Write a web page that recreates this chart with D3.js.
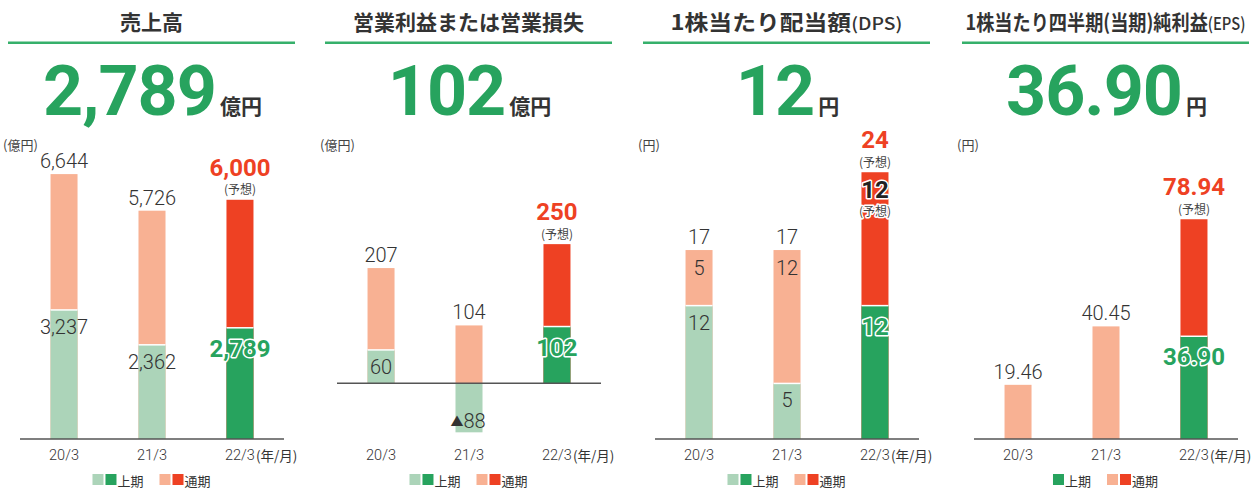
<!DOCTYPE html>
<html lang="ja">
<head>
<meta charset="UTF-8">
<title>業績ハイライト</title>
<script src="https://d3js.org/d3.v7.min.js"></script>
<style>
  body { margin: 0; background: #fff; }
  text { font-family: Roboto, "Noto Sans CJK JP", sans-serif; }
  .jp { font-family: "Noto Sans CJK JP", sans-serif; }
</style>
</head>
<body>
<svg width="1252" height="488"></svg>
<script>
// data
const periods = ["20/3", "21/3", "22/3"];
const forecast = [false, false, true];

const titles = ["売上高", "営業利益または営業損失", "1株当たり配当額", "1株当たり四半期(当期)純利益"];
const titleSuffix = ["", "", "(DPS)", "(EPS)"];
const titleWidth = [null, null, 232, 280];
const headlines = ["2,789", "102", "12", "36.90"];
const headUnits = ["億円", "億円", "円", "円"];
const axisUnits = ["(億円)", "(億円)", "(円)", "(円)"];

const salesFull = [6644, 5726, 6000];
const salesH1 = [3237, 2362, 2789];
const opFull = [207, 104, 250];
const opH1 = [60, -88, 102];
const dpsFull = [17, 17, 24];
const dpsH1 = [12, 5, 12];
const epsFull = [19.46, 40.45, 78.94];
const epsH1 = [null, null, 36.90];

const C = {
  green: "#27a35e", lightGreen: "#acd4b9", salmon: "#f8b193", red: "#ee4123",
  rule: "#36b06b", text: "#333333"
};

const fmtOp = v => v < 0 ? "▲" + Math.abs(v) : String(v);
const panels = [
  { x0: 8,   full: salesFull, h1: salesH1, dom: [0, 7750], fmt: d3.format(","), light: true },
  { x0: 325, full: opFull,    h1: opH1,    dom: [-100, 455], fmt: fmtOp, light: true },
  { x0: 643, full: dpsFull,   h1: dpsH1,   dom: [0, 27.8], fmt: d3.format("d"), light: true, second: true },
  { x0: 962, full: epsFull,   h1: epsH1,   dom: [0, 111], fmt: d3.format(".2f"), light: false }
];

const svg = d3.select("svg");
const W = 287;

panels.forEach((p, i) => {
  const g = svg.append("g").attr("transform", `translate(${p.x0},0)`);
  const cx = W / 2;

  // title + rule
  const tg = g.append("g");
  const tt = tg.append("text").attr("class", "jp").attr("x", 0).attr("y", 30)
    .attr("font-size", 21).attr("font-weight", 700).attr("fill", C.text).text(titles[i]);
  if (titleSuffix[i]) tt.append("tspan").attr("font-size", 17).attr("font-weight", 500).text(titleSuffix[i]);
  const natural = tt.node().getComputedTextLength();
  const sx = titleWidth[i] ? titleWidth[i] / natural : 1;
  tg.attr("transform", `translate(${cx - natural * sx / 2},0) scale(${sx},1)`);
  g.append("rect").attr("x", 0).attr("y", 41.5).attr("width", W).attr("height", 2.5).attr("fill", C.rule);

  // headline
  const hg = g.append("g");
  const num = hg.append("text").attr("x", 0).attr("y", 115)
    .attr("font-size", 70).attr("font-weight", 700).attr("letter-spacing", -1)
    .attr("fill", C.green).text(headlines[i]);
  const nw = num.node().getComputedTextLength();
  const unit = hg.append("text").attr("class", "jp").attr("x", nw + 4).attr("y", 114)
    .attr("font-size", 21).attr("font-weight", 700).attr("fill", C.text).text(headUnits[i]);
  const tw = nw + 4 + unit.node().getComputedTextLength();
  hg.attr("transform", `translate(${cx + 1 - tw / 2},0)`);

  // axis unit
  g.append("text").attr("class", "jp").attr("x", -5).attr("y", 150)
    .attr("font-size", 13).attr("fill", "#444").text(axisUnits[i]);

  // scales
  const x = d3.scaleBand().domain(periods).range([12, 276]).paddingInner(0.693).paddingOuter(0.347);
  const y = d3.scaleLinear().domain(p.dom).range([439, 130]);
  const bw = x.bandwidth();
  const y0 = y(0);

  const rows = periods.map((k, j) => ({ k, full: p.full[j], h1: p.h1[j], fc: forecast[j] }));

  // full-year bars
  g.selectAll(".full").data(rows).enter().append("rect")
    .attr("x", d => x(d.k)).attr("width", bw)
    .attr("y", d => y(Math.max(0, d.full))).attr("height", d => Math.abs(y(d.full) - y0))
    .attr("fill", d => d.fc ? C.red : C.salmon);

  // first-half bars
  const h1rows = rows.filter(d => d.h1 != null);
  g.selectAll(".h1").data(h1rows).enter().append("rect")
    .attr("x", d => x(d.k)).attr("width", bw)
    .attr("y", d => y(Math.max(0, d.h1))).attr("height", d => Math.abs(y(d.h1) - y0))
    .attr("fill", d => d.fc ? C.green : C.lightGreen);
  g.selectAll(".sep").data(h1rows.filter(d => d.h1 > 0)).enter().append("line")
    .attr("x1", d => x(d.k)).attr("x2", d => x(d.k) + bw)
    .attr("y1", d => y(d.h1)).attr("y2", d => y(d.h1))
    .attr("stroke", "#fff").attr("stroke-width", 1.5);

  // baseline
  g.append("line").attr("x1", 12).attr("x2", 276).attr("y1", y0).attr("y2", y0)
    .attr("stroke", "#555").attr("stroke-width", 1.5);

  const lab = (xx, yy, txt, size, weight, fill, outline) => {
    const t = g.append("text").attr("x", xx).attr("y", yy).attr("text-anchor", "middle")
      .attr("dominant-baseline", "central").attr("font-size", size).attr("font-weight", weight)
      .attr("fill", fill);
    if (txt.startsWith("▲")) {
      t.append("tspan").attr("font-size", 13).text("▲");
      t.append("tspan").text(txt.slice(1));
    } else t.text(txt);
    if (outline) t.attr("stroke", "#fff").attr("stroke-width", 3).attr("stroke-linejoin", "round").attr("paint-order", "stroke");
    return t;
  };

  rows.forEach(d => {
    const bx = x(d.k) + bw / 2;
    const top = y(d.full);
    // total label
    if (d.fc) {
      lab(bx, top - 32, p.fmt(d.full), 24, 700, C.red);
      lab(bx, top - 11, "(予想)", 12, 400, "#444").attr("class", "jp");
    } else {
      lab(bx, top - 13, p.fmt(d.full), 20, 300, C.text);
    }
    // second-half label (DPS)
    if (p.second && d.h1 != null) {
      if (d.fc) {
        lab(bx, top + 18, p.fmt(d.full - d.h1), 24, 700, "#222", true);
        lab(bx, top + 38, "(予想)", 12, 400, "#444", true).attr("class", "jp");
      } else {
        lab(bx, top + 18, p.fmt(d.full - d.h1), 20, 300, C.text);
      }
    }
    // first-half label
    if (d.h1 != null) {
      if (d.h1 < 0) lab(bx - 1, y(d.h1) - 11, p.fmt(d.h1), 20, 300, C.text);
      else if (d.fc) lab(bx, y(d.h1) + 21, p.fmt(d.h1), 24, 700, C.green, true);
      else lab(bx, y(d.h1) + 17, p.fmt(d.h1), 20, 300, C.text);
    }
  });

  // x labels
  rows.forEach((d, j) => {
    const bx = x(d.k) + bw / 2;
    const t = lab(bx, 455, d.k, 14.5, 300, C.text);
    if (j == rows.length - 1) {
      g.append("text").attr("class", "jp").attr("x", bx + t.node().getComputedTextLength() / 2 + 1)
        .attr("y", 455).attr("dominant-baseline", "central").attr("font-size", 13.5)
        .attr("fill", C.text).text("(年/月)");
    }
  });

  // legend
  const lg = g.append("g");
  let lx = 0;
  const sw = (col) => { lg.append("rect").attr("x", lx).attr("y", 474).attr("width", 11).attr("height", 11).attr("fill", col); lx += 13; };
  const lt = (txt) => {
    const t = lg.append("text").attr("class", "jp").attr("x", lx - 1).attr("y", 480)
      .attr("dominant-baseline", "central").attr("font-size", 13).attr("fill", C.text).text(txt);
    lx += t.node().getComputedTextLength();
  };
  if (p.light) sw(C.lightGreen);
  sw(C.green); lt("上期");
  lx += 15;
  sw(C.salmon); sw(C.red); lt("通期");
  lg.attr("transform", `translate(${x("21/3") + bw / 2 - lx / 2},0)`);
});
</script>
</body>
</html>
